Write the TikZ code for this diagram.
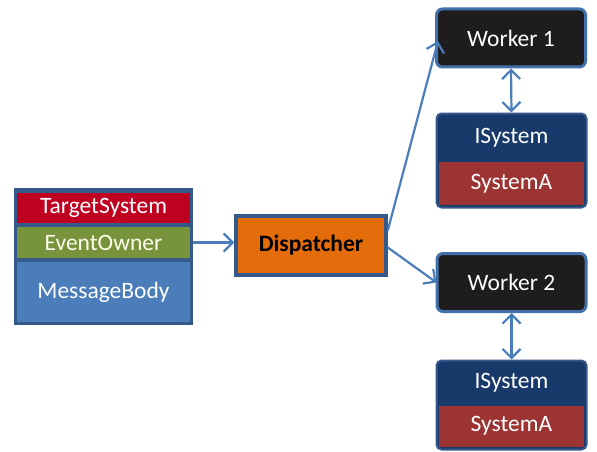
\documentclass[tikz,border=0pt]{standalone}
\usepackage{fontspec}
\setmainfont{Carlito}
\usetikzlibrary{arrows.meta}
\definecolor{frameblue}{HTML}{35598A}
\definecolor{tsred}{HTML}{C00020}
\definecolor{eogreen}{HTML}{77933C}
\definecolor{mbblue}{HTML}{4A7DBA}
\definecolor{disporange}{HTML}{E46C0A}
\definecolor{wblack}{HTML}{1E1C1C}
\definecolor{wborder}{HTML}{4270AA}
\definecolor{isnavy}{HTML}{173A6A}
\definecolor{sared}{HTML}{9B3432}
\definecolor{arrowblue}{HTML}{4A7EBB}
\tikzset{
  txt/.style={font=\fontsize{23.5}{27}\selectfont, text=white, inner sep=0pt, align=center},
  band/.style={txt, rectangle, minimum width=173pt},
  conn/.style={draw=arrowblue, line width=2.2pt, -{Straight Barb[length=9pt,width=18pt,line width=2.2pt]}},
  dconn/.style={draw=arrowblue, line width=2.2pt, {Straight Barb[length=9pt,width=18pt,line width=2.2pt]}-{Straight Barb[length=9pt,width=18pt,line width=2.2pt]}},
  workerbox/.style={txt, rectangle, rounded corners=6pt, fill=wblack, draw=wborder, line width=3pt, minimum width=149pt, minimum height=58pt},
  stackframe/.style={rectangle, rounded corners=5pt, fill=isnavy, draw=frameblue, line width=2pt, minimum width=150pt},
  sband/.style={txt, rectangle, minimum width=145pt},
}
\begin{document}
\begin{tikzpicture}[x=1pt,y=-1pt]
\useasboundingbox (0,0) rectangle (597,452);
% left message stack
\node[rectangle, fill=frameblue, minimum width=179pt, minimum height=137pt, inner sep=0pt] (lframe) at (103.5,256.5) {};
\node[band, fill=tsred, minimum height=30pt] (ts) at (103.5,207.5) {TargetSystem};
\node[band, fill=eogreen, minimum height=31pt, text=white!92!yellow] (eo) at (103.5,242.5) {EventOwner};
\node[band, fill=mbblue, minimum height=60pt] (mb) at (103.5,292) {MessageBody};
% dispatcher
\node[txt, rectangle, fill=disporange, draw=frameblue, line width=3.5pt, minimum width=150pt, minimum height=59pt, text=black, font=\fontsize{23.5}{27}\selectfont\bfseries] (disp) at (311,245.5) {Dispatcher};
% worker 1
\node[workerbox] (w1) at (511,38) {Worker 1};
\node[stackframe, minimum height=94pt] (s1) at (511.5,160.5) {};
\node[sband, fill=isnavy, minimum height=43pt] (is1) at (511.5,137.5) {ISystem};
\node[sband, fill=sared, minimum height=43pt] (sa1) at (511.5,183.5) {SystemA};
% worker 2
\node[workerbox] (w2) at (511.5,282.5) {Worker 2};
\node[stackframe, minimum height=89pt] (s2) at (511.5,405) {};
\node[sband, fill=isnavy, minimum height=39pt] (is2) at (511.5,382.5) {ISystem};
\node[sband, fill=sared, minimum height=41pt] (sa2) at (511.5,426) {SystemA};
% connectors
\draw[conn] (lframe.east |- eo.east) -- (disp.west |- eo.east);
\draw[conn] ([yshift=15pt]disp.east) -- ([xshift=3pt,yshift=-3pt]w1.west);
\draw[conn] ([yshift=-2pt]disp.east) -- ([xshift=1pt]w2.west);
\draw[dconn] (w1.south) -- (s1.north);
\draw[dconn] (w2.south) -- (s2.north);
\end{tikzpicture}
\end{document}
